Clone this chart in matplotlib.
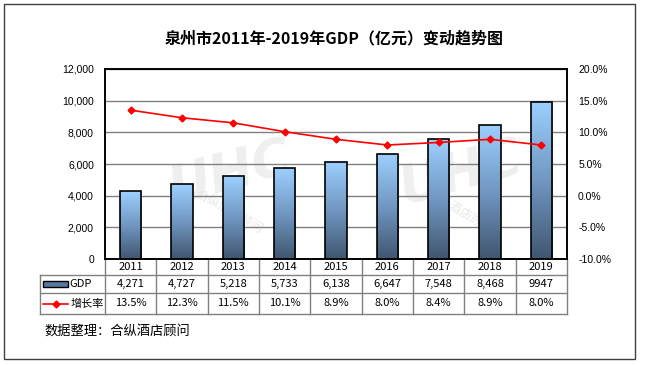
import numpy as np
import matplotlib
matplotlib.use("Agg")
import matplotlib.pyplot as plt
import matplotlib.transforms as mtransforms
from matplotlib.patches import Rectangle
from matplotlib.colors import LinearSegmentedColormap

# 数据
years = ["2011", "2012", "2013", "2014", "2015", "2016", "2017", "2018", "2019"]
gdp = [4271, 4727, 5218, 5733, 6138, 6647, 7548, 8468, 9947]
gdp_labels = ["4,271", "4,727", "5,218", "5,733", "6,138", "6,647", "7,548", "8,468", "9947"]
rate = [13.5, 12.3, 11.5, 10.1, 8.9, 8.0, 8.4, 8.9, 8.0]

cjk = ["Noto Sans CJK SC", "DejaVu Sans"]
plt.rcParams["font.family"] = cjk

W, H = 646, 365
fig = plt.figure(figsize=(W / 100, H / 100), dpi=100)

# 外框
fig.patches.append(Rectangle((4 / W, 1 - 359 / H), 631 / W, 355 / H, transform=fig.transFigure,
                             fill=False, edgecolor="#404040", linewidth=1))

ax_l, ax_r, ax_t, ax_b = 105, 567, 69, 259
ax = fig.add_axes([ax_l / W, 1 - ax_b / H, (ax_r - ax_l) / W, (ax_b - ax_t) / H])
ax2 = ax.twinx()

x = np.arange(len(years))

# 柱子 (渐变)
cmap = LinearSegmentedColormap.from_list("bar", ["#405670", "#7197c2", "#9dd0ff"])
grad = np.linspace(1, 0, 256).reshape(-1, 1)
bars = ax.bar(x, gdp, width=0.42, facecolor="none", edgecolor="black", linewidth=1.2, zorder=3)
for b in bars:
    im = ax.imshow(grad, cmap=cmap, aspect="auto", zorder=2.5,
                   extent=[b.get_x(), b.get_x() + b.get_width(), 0, b.get_height()])
    im.set_clip_path(b)

# 水印
for wx in [0.27, 0.77]:
    ax.text(wx, 0.45, "UHC", transform=ax.transAxes, fontsize=38, fontweight="bold", style="italic",
            color="#efefef", rotation=15, ha="center", va="center", zorder=0.5, family="DejaVu Sans")
    ax.text(wx, 0.25, "合纵酒店顾问", transform=ax.transAxes, fontsize=9,
            color="#e8e8e8", rotation=-30, ha="center", va="center", zorder=0.5)

ax.set_xlim(-0.5, len(years) - 0.5)
ax.set_ylim(0, 12000)
ax.set_yticks(range(0, 12001, 2000))
ax.set_yticklabels([f"{v:,}" for v in range(0, 12001, 2000)], family="Liberation Sans", fontsize=7.5)
ax.set_xticks([])
ax.yaxis.grid(True, color="#808080", linewidth=1)
ax.set_axisbelow(True)
ax.tick_params(axis="y", length=0, pad=8)

# 增长率
ax2.plot(x, rate, color="#ff0000", marker="D", markersize=3.5, linewidth=1.2, zorder=5)
ax2.set_ylim(-10, 20)
ax2.set_yticks(range(-10, 21, 5))
ax2.set_yticklabels([f"{v:.1f}%" for v in range(-10, 21, 5)], family="Liberation Sans", fontsize=7.5)
ax2.tick_params(axis="y", length=0, pad=8)

for a in (ax, ax2):
    for s in a.spines.values():
        s.set_color("black")
        s.set_linewidth(1.2)

# 数据表
ph = ax_b - ax_t
h_head, h_row1, h_row2 = 16 / ph, 18 / ph, 21 / ph
trans = mtransforms.blended_transform_factory(ax.transData, ax.transAxes)
left = -0.5 + (40 - ax_l) / (ax_r - ax_l) * len(years)
right = len(years) - 0.5
lc = "#808080"
y1 = -h_head
y2 = y1 - h_row1
y3 = y2 - h_row2
for yy in [y1, y2, y3]:
    ax.plot([left, right], [yy, yy], color=lc, lw=1, transform=trans, clip_on=False)
for i in range(len(years) + 1):
    ax.plot([i - 0.5, i - 0.5], [0, y3], color=lc, lw=1, transform=trans, clip_on=False)
ax.plot([left, left], [y1, y3], color=lc, lw=1, transform=trans, clip_on=False)

fs = 8
for i in range(len(years)):
    ax.text(i, -h_head / 2, years[i], transform=trans, ha="center", va="center", fontsize=fs)
    ax.text(i, y1 - h_row1 / 2, gdp_labels[i], transform=trans, ha="center", va="center", fontsize=fs)
    ax.text(i, y2 - h_row2 / 2, f"{rate[i]:.1f}%", transform=trans, ha="center", va="center", fontsize=fs)

# 行标签 (图例)
ic0 = left + 0.06
ic1 = left + 0.55
ax.add_patch(Rectangle((ic0, y1 - h_row1 / 2 - 0.016), ic1 - ic0, 0.032, transform=trans, clip_on=False,
                       facecolor="#5579a3", edgecolor="black", linewidth=1))
ax.text(ic1 + 0.02, y1 - h_row1 / 2, "GDP", transform=trans, ha="left", va="center", fontsize=fs)
ax.plot([ic0, ic1], [y2 - h_row2 / 2] * 2, color="#ff0000", lw=1.2, transform=trans, clip_on=False)
ax.plot([(ic0 + ic1) / 2], [y2 - h_row2 / 2], color="#ff0000", marker="D", markersize=3.5,
        transform=trans, clip_on=False)
ax.text(ic1 + 0.05, y2 - h_row2 / 2, "增长率", transform=trans, ha="left", va="center", fontsize=fs)

# 标题与脚注
fig.text(334 / W, 1 - 38 / H, "泉州市2011年-2019年GDP（亿元）变动趋势图", ha="center", va="center",
         fontsize=11.5, fontweight="bold")
fig.text(44 / W, 1 - 331 / H, "数据整理：合纵酒店顾问", ha="left", va="center", fontsize=9.5)

fig.savefig("out.png", dpi=100)
